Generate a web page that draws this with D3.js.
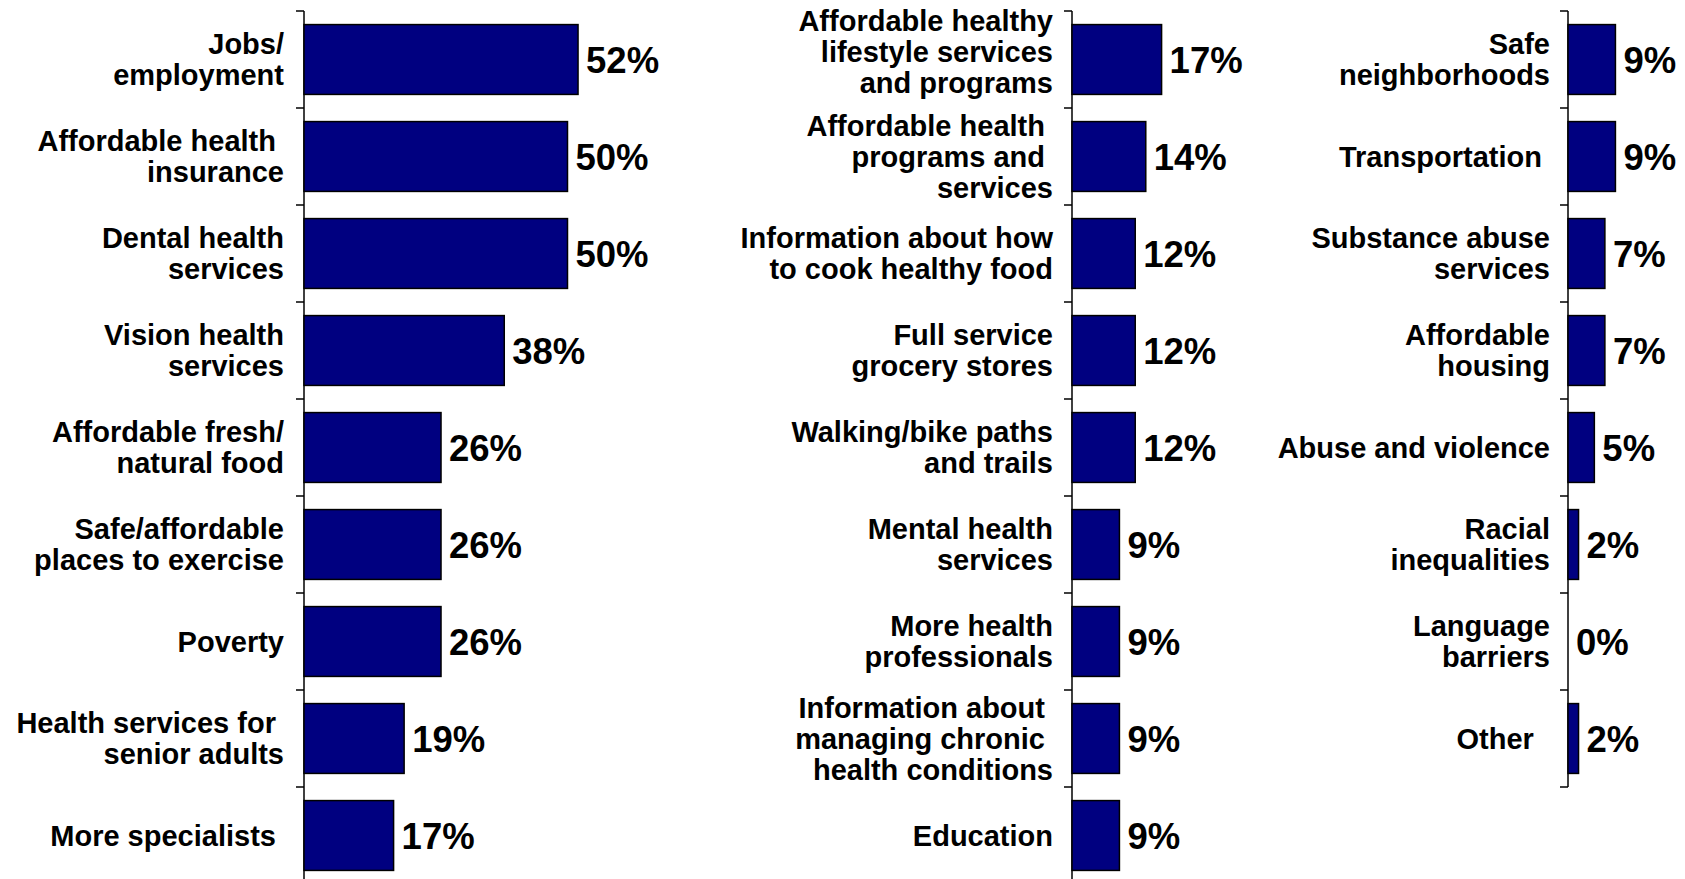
<!DOCTYPE html>
<html><head><meta charset="utf-8">
<script src="https://cdn.jsdelivr.net/npm/d3@7"></script>
<style>html,body{margin:0;padding:0;background:#fff;}svg{display:block;}text{white-space:pre;}</style>
</head><body>
<svg id="chart" width="1685" height="879"></svg>
<script>
const categories1 = [
  ["Jobs/", "employment"],
  ["Affordable health ", "insurance"],
  ["Dental health", "services"],
  ["Vision health", "services"],
  ["Affordable fresh/", "natural food"],
  ["Safe/affordable", "places to exercise"],
  ["Poverty"],
  ["Health services for ", "senior adults"],
  ["More specialists "]
];
const values1 = [52, 50, 50, 38, 26, 26, 26, 19, 17];

const categories2 = [
  ["Affordable healthy", "lifestyle services", "and programs"],
  ["Affordable health ", "programs and ", "services"],
  ["Information about how", "to cook healthy food"],
  ["Full service", "grocery stores"],
  ["Walking/bike paths", "and trails"],
  ["Mental health", "services"],
  ["More health", "professionals"],
  ["Information about ", "managing chronic ", "health conditions"],
  ["Education"]
];
const values2 = [17, 14, 12, 12, 12, 9, 9, 9, 9];

const categories3 = [
  ["Safe", "neighborhoods"],
  ["Transportation "],
  ["Substance abuse", "services"],
  ["Affordable", "housing"],
  ["Abuse and violence"],
  ["Racial", "inequalities"],
  ["Language", "barriers"],
  ["Other  "]
];
const values3 = [9, 9, 7, 7, 5, 2, 0, 2];

const svg = d3.select("#chart");
const FONT = "'Liberation Sans', Arial, Helvetica, sans-serif";
const top0 = 11, step = 97;

function panel(axisX, cats, vals, labelRightGap) {
  const n = cats.length;
  const idx = d3.range(n);
  const y = d3.scaleBand().domain(idx).range([top0, top0 + step * n])
    .paddingInner(0.28).paddingOuter(0.14);
  const x = d3.scaleLinear().domain([0, 100]).range([axisX, axisX + 527]);
  const g = svg.append("g");
  const st = y.step();
  g.append("line").attr("x1", axisX).attr("x2", axisX)
    .attr("y1", top0).attr("y2", top0 + st * n)
    .attr("stroke", "#000").attr("stroke-width", 1.5);
  const bounds = d3.range(n + 1).map(i => top0 + st * i);
  g.selectAll(".tk").data(bounds).join("line")
    .attr("x1", axisX - 8).attr("x2", axisX)
    .attr("y1", d => d).attr("y2", d => d)
    .attr("stroke", "#000").attr("stroke-width", 1.5);
  g.selectAll(".bar").data(idx.filter(i => vals[i] > 0)).join("rect")
    .attr("x", x(0))
    .attr("y", i => y(i))
    .attr("width", i => x(vals[i]) - x(0))
    .attr("height", y.bandwidth())
    .attr("fill", "#000080")
    .attr("stroke", "#000")
    .attr("stroke-width", 1.5);
  g.selectAll(".val").data(idx).join("text")
    .attr("x", i => x(vals[i]) + 8)
    .attr("y", i => y(i) + y.bandwidth() / 2)
    .attr("dy", "0.36em")
    .attr("font-family", FONT).attr("font-weight", "bold")
    .attr("font-size", 36.5).attr("fill", "#000")
    .text(i => vals[i] + "%");
  const lh = 31;
  g.selectAll(".cat").data(idx).join("text")
    .attr("text-anchor", "end")
    .attr("font-family", FONT).attr("font-weight", "bold")
    .attr("font-size", 29).attr("fill", "#000")
    .each(function(i) {
      const lines = cats[i];
      let cy = y(i) + y.bandwidth() / 2;
      // keep a tall first label from crowding the top edge
      if (i === 0 && lines.length === 3) cy -= 7.5;
      const t = d3.select(this);
      lines.forEach((ln, k) => {
        t.append("tspan")
          .attr("x", axisX - labelRightGap)
          .attr("y", cy + (k - (lines.length - 1) / 2) * lh)
          .attr("dy", "0.36em")
          .text(ln);
      });
    });
}

panel(304, categories1, values1, 20);
panel(1072, categories2, values2, 19);
panel(1568, categories3, values3, 18);
</script>
</body></html>
